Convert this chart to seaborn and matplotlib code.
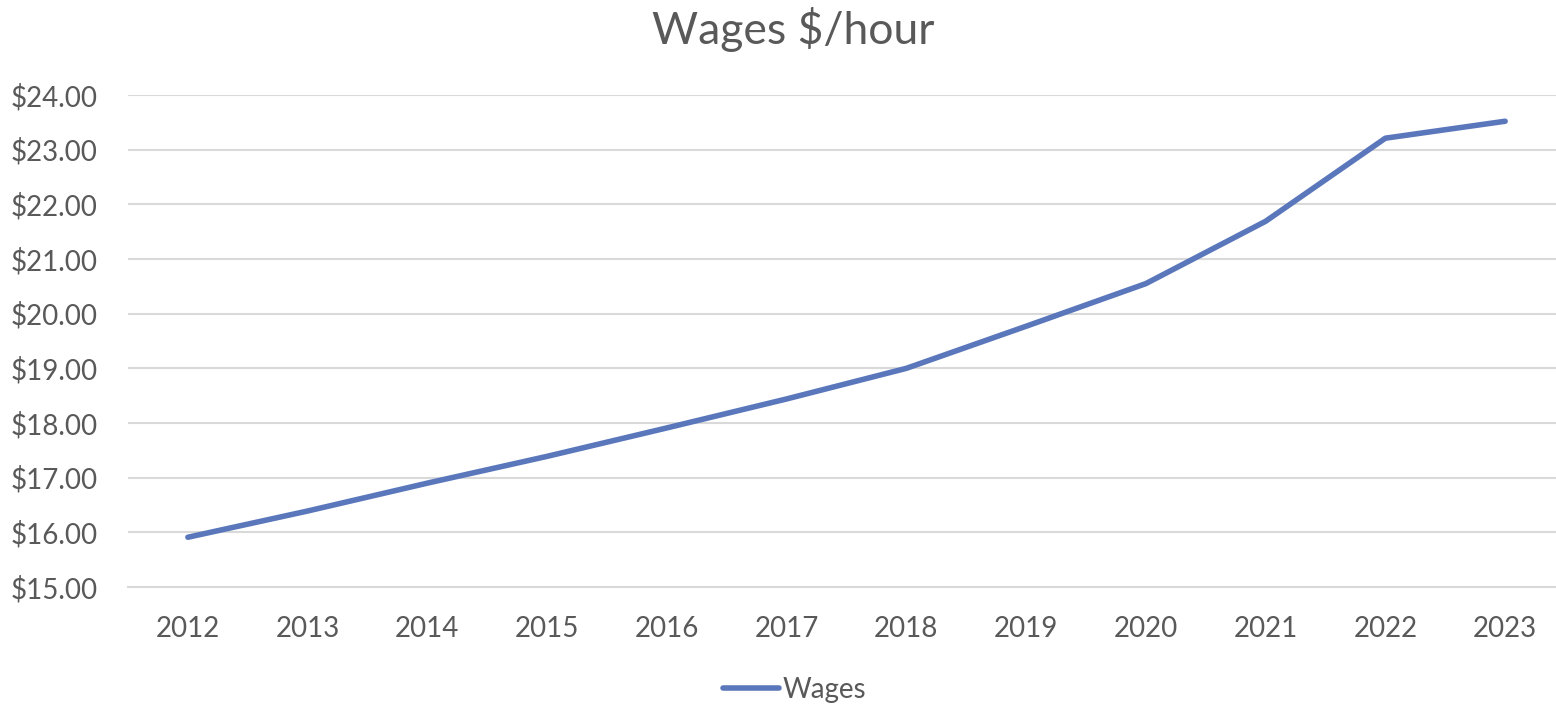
import matplotlib
matplotlib.use("Agg")
import matplotlib.pyplot as plt
import seaborn as sns
import pandas as pd
from matplotlib.ticker import FuncFormatter, MultipleLocator

years = ["2012", "2013", "2014", "2015", "2016", "2017",
         "2018", "2019", "2020", "2021", "2022", "2023"]
wages = [15.91, 16.39, 16.90, 17.39, 17.91, 18.44,
         19.00, 19.77, 20.55, 21.69, 23.21, 23.52]
series_name = "Wages"
title = "Wages $/hour"

df = pd.DataFrame({"Year": years, series_name: wages})

sns.set_theme(style="white")
plt.rcParams["font.family"] = ["Lato", "DejaVu Sans"]

TXT = "#595959"
GRID = "#D9D9D9"
LINE = "#5B77BC"

W, H = 1556, 706
fig = plt.figure(figsize=(W / 100, H / 100), dpi=100)
ax = fig.add_axes([128 / W, 1 - 587 / H, (1565 - 128) / W, (587 - 95) / H])

sns.lineplot(data=df, x="Year", y=series_name, ax=ax, color=LINE,
             linewidth=4.0, label=series_name, sort=False)
for l in ax.get_lines():
    l.set_solid_capstyle("round")
    l.set_solid_joinstyle("round")

ax.set_xlim(-0.5, len(years) - 0.5)
ax.set_ylim(15, 24)
ax.yaxis.set_major_locator(MultipleLocator(1))
ax.yaxis.set_major_formatter(FuncFormatter(lambda v, p: f"${v:,.2f}"))
ax.grid(axis="y", color=GRID, linewidth=1.5)
ax.grid(axis="x", visible=False)
ax.set_axisbelow(True)
for s in ["top", "right", "left"]:
    ax.spines[s].set_visible(False)
ax.spines["bottom"].set_color(GRID)
ax.spines["bottom"].set_linewidth(1.5)
ax.tick_params(axis="y", length=0, pad=22, labelsize=20, labelcolor=TXT)
ax.tick_params(axis="x", length=0, pad=21, labelsize=20, labelcolor=TXT)
ax.set_xlabel("")
ax.set_ylabel("")

fig.text(793 / W, 1 - 30 / H, title, ha="center", va="center",
         fontsize=32, color=TXT)

ax.get_legend().remove()
h, lab = ax.get_legend_handles_labels()
leg = fig.legend(h, lab, loc="center", bbox_to_anchor=(795 / W, 1 - 690 / H),
                 frameon=False, fontsize=20, handlelength=2.0,
                 handletextpad=0.15, labelcolor=TXT)

fig.savefig("out.png", dpi=100, facecolor="white")
